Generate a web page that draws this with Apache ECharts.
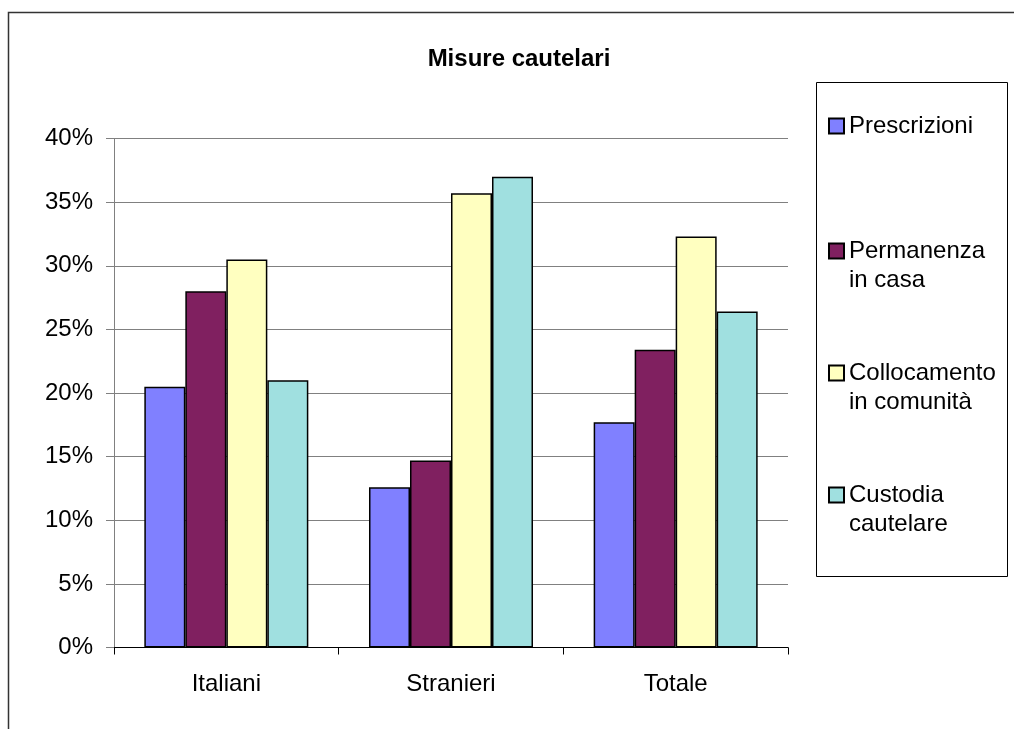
<!DOCTYPE html>
<html>
<head>
<meta charset="utf-8">
<script src="https://cdn.jsdelivr.net/npm/echarts@6/dist/echarts.min.js"></script>
<style>
  html, body { margin: 0; padding: 0; background: #fff; }
  #chart { width: 1014px; height: 729px; }
</style>
</head>
<body>
<div id="chart"></div>
<script>
const categories = ['Italiani', 'Stranieri', 'Totale'];
const seriesNames = ['Prescrizioni', 'Permanenza\nin casa', 'Collocamento\nin comunità', 'Custodia\ncautelare'];
const prescrizioni = [20.5, 12.6, 17.7];
const permanenza = [28.0, 14.7, 23.4];
const collocamento = [30.5, 35.7, 32.3];
const custodia = [21.0, 37.0, 26.4];
const seriesValues = [prescrizioni, permanenza, collocamento, custodia];
const colors = ['#8080ff', '#802060', '#ffffc0', '#a0e0e0'];

const FONT = '"Liberation Sans", Arial, sans-serif';
const LINE_H = 29;
// centre of the first text line of each legend entry
const legendCenters = [126, 251, 373, 495];

const chart = echarts.init(document.getElementById('chart'), null, { renderer: 'canvas' });

// legend text is centred on the icon, so two-line names get a blank line on top
// to keep the icon level with their first line
const legends = seriesNames.map((name, i) => {
  const twoLines = name.includes('\n');
  return {
    data: [name],
    orient: 'vertical',
    left: 828,
    top: legendCenters[i] - (twoLines ? 1.5 : 0.5) * LINE_H,
    padding: 0,
    itemWidth: 15,
    itemHeight: 15,
    icon: 'rect',
    selectedMode: false,
    formatter: (n) => (n.includes('\n') ? ' \n' + n : n),
    textStyle: {
      fontFamily: FONT,
      fontSize: 24,
      lineHeight: LINE_H,
      color: '#000',
    },
  };
});

chart.setOption({
  animation: false,
  backgroundColor: '#fff',
  color: colors,
  title: {
    text: 'Misure cautelari',
    left: 519,
    top: 47,
    padding: 0,
    textAlign: 'center',
    textStyle: { fontFamily: FONT, fontSize: 24, fontWeight: 'bold', color: '#000' },
  },
  legend: legends,
  graphic: [
    {
      type: 'rect',
      shape: { x: 8.5, y: 12.5, width: 1100, height: 800 },
      style: { fill: 'none', stroke: '#333', lineWidth: 1.5 },
      silent: true,
      z: -1,
    },
    {
      type: 'rect',
      shape: { x: 816.5, y: 82.5, width: 191, height: 494 },
      style: { fill: 'none', stroke: '#000', lineWidth: 1 },
      silent: true,
    },
  ],
  grid: { left: 114, top: 138.5, width: 674, height: 509 },
  xAxis: {
    type: 'category',
    data: categories,
    axisLine: { lineStyle: { color: '#000', width: 1 } },
    axisTick: { show: true, length: 7, lineStyle: { color: '#000' } },
    axisLabel: { fontFamily: FONT, fontSize: 24, color: '#000', margin: 25 },
  },
  yAxis: {
    type: 'value',
    min: 0,
    max: 40,
    interval: 5,
    axisLine: { show: true, lineStyle: { color: '#808080', width: 1 } },
    axisTick: { show: true, length: 8, lineStyle: { color: '#808080' } },
    axisLabel: { fontFamily: FONT, fontSize: 24, color: '#000', margin: 21, formatter: '{value}%' },
    splitLine: { lineStyle: { color: '#808080', width: 1 } },
  },
  series: seriesNames.map((name, i) => ({
    name,
    type: 'bar',
    data: seriesValues[i],
    barGap: '0%',
    barCategoryGap: '27%',
    itemStyle: { color: colors[i], borderColor: '#000', borderWidth: 1.5 },
  })),
});
</script>
</body>
</html>
